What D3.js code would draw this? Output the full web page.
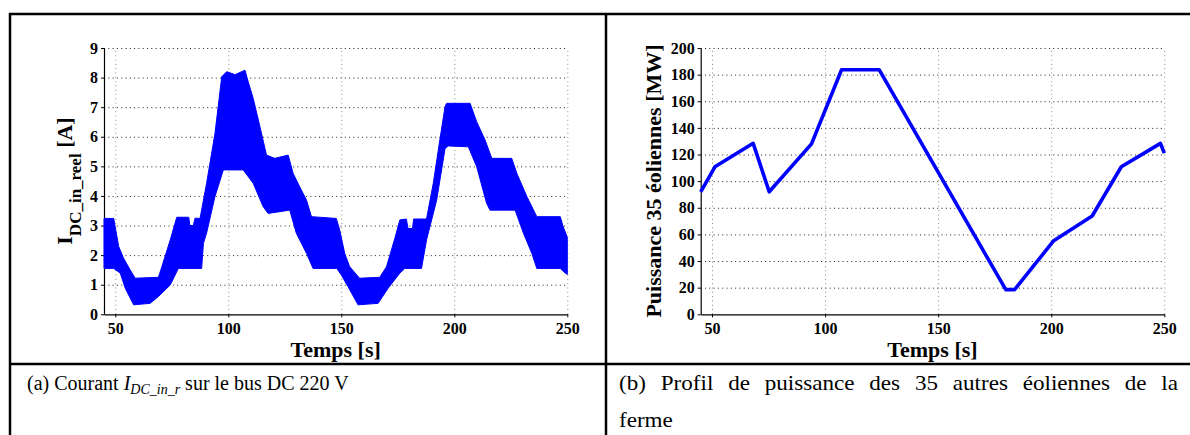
<!DOCTYPE html>
<html>
<head>
<meta charset="utf-8">
<script src="https://cdnjs.cloudflare.com/ajax/libs/d3/7.8.5/d3.min.js"></script>
<style>
  body { margin: 0; background: #fff; }
  svg { display: block; }
  text { font-family: "Liberation Serif", "Times New Roman", serif; }
</style>
</head>
<body>
<div id="fig"></div>
<script>
// ---- data ----
// (a) current I_DC_in_r : envelope of the oscillating band
var upperTime = [45, 49.3, 51.5, 53.7, 56.6, 58.8, 69.1, 70.6, 74.3, 77.2, 82.5, 83, 84.5, 85.3, 87.5,
    90.4, 94.1, 97.1, 99.3, 103, 107.4, 108.8, 111, 114, 116.9, 120.6, 126.5, 128.7, 131.6, 134.6,
    136.8, 147.8, 149.3, 151.5, 153.7, 158.1, 167, 170, 173.7, 175.9, 178.8, 179.5, 181.5, 182,
    187.7, 190.7, 193.6, 195.9, 196.6, 207, 209.9, 213.6, 216.6, 225.4, 227.7, 232.1, 236.5,
    246.9, 248, 250];
var upperValue = [3.24, 3.24, 2.29, 1.89, 1.5, 1.22, 1.25, 1.61, 2.51, 3.28, 3.28, 3.0, 3.0, 3.25, 3.24,
    4.43, 6.11, 8.03, 8.2, 8.1, 8.25, 7.86, 7.3, 6.34, 5.38, 5.27, 5.38, 4.76, 4.31, 3.86,
    3.3, 3.24, 2.85, 2.06, 1.61, 1.22, 1.25, 1.61, 2.57, 3.19, 3.22, 2.9, 2.9, 3.22,
    3.22, 4.43, 5.89, 7.02, 7.13, 7.13, 6.51, 5.89, 5.27, 5.27, 4.76, 3.98, 3.3,
    3.3, 3.0, 2.6];
var lowerTime = [45, 49.3, 52.2, 54.4, 58.1, 65.4, 69.1, 74.3, 77.9, 88.2, 89, 90.4, 94.1, 97.8,
    106.6, 111, 115.4, 117.6, 127.2, 130.1, 134.6, 137.5, 148, 150, 153, 157.4, 166.3, 170.7,
    175.9, 178.1, 185.5, 187.7, 192.2, 195.9, 197.3, 206.2, 209.9, 214.3, 215.8, 226.9, 230.6,
    234.3, 236.5, 246.9, 249.1, 250];
var lowerValue = [1.55, 1.55, 1.39, 0.88, 0.32, 0.37, 0.6, 0.99, 1.55, 1.55, 2.4, 2.75, 3.98, 4.88,
    4.88, 4.43, 3.64, 3.41, 3.52, 2.74, 2.06, 1.55, 1.55, 1.33, 0.93, 0.32, 0.37, 0.88,
    1.39, 1.55, 1.55, 2.51, 3.86, 5.6, 5.69, 5.66, 4.99, 3.75, 3.52, 3.52, 2.74,
    2.06, 1.55, 1.55, 1.39, 1.35];

// (b) power profile of the 35 other turbines
var powerTime = [45, 51.3, 68.2, 75.3, 94, 107.3, 123.9, 179.9, 183.8, 201.1, 218.1, 231, 248.3, 250];
var powerValue = [92, 110.8, 128.4, 92, 128, 183.7, 183.7, 18.5, 18.5, 55.3, 73.8, 110.8, 128.4, 121];

var timeTicks = [50, 100, 150, 200, 250];
var currentTicks = [0, 1, 2, 3, 4, 5, 6, 7, 8, 9];
var powerTicks = [0, 20, 40, 60, 80, 100, 120, 140, 160, 180, 200];

var W = 1190, H = 435;
var blue = '#0000ff';

var svg = d3.select('#fig').append('svg')
    .attr('width', W)
    .attr('height', H);

// frame of the figure table
var frame = svg.append('g').attr('stroke', '#000').attr('stroke-width', 2.5);
frame.append('line').attr('x1', 9).attr('x2', W).attr('y1', 14).attr('y2', 14);
frame.append('line').attr('x1', 9).attr('x2', W).attr('y1', 364).attr('y2', 364);
frame.append('line').attr('x1', 10).attr('x2', 10).attr('y1', 13).attr('y2', H);
frame.append('line').attr('x1', 606).attr('x2', 606).attr('y1', 13).attr('y2', H);

function gen_panel(x0, x1, yDomain, yTicks) {
    var x = d3.scaleLinear().domain([45, 250]).range([x0, x1]);
    var y = d3.scaleLinear().domain(yDomain).range([314.3, 48]);
    var g = svg.append('g');

    // dotted grid
    g.append('g').selectAll('line').data(yTicks.slice(1)).join('line')
        .attr('x1', x0).attr('x2', x1)
        .attr('y1', d => y(d) + 0.5).attr('y2', d => y(d) + 0.5)
        .attr('stroke', '#222').attr('stroke-width', 1)
        .attr('stroke-dasharray', '1,3.3');
    g.append('g').selectAll('line').data(timeTicks).join('line')
        .attr('x1', d => x(d) + 0.5).attr('x2', d => x(d) + 0.5)
        .attr('y1', y.range()[0]).attr('y2', y.range()[1])
        .attr('stroke', '#888').attr('stroke-width', 1)
        .attr('stroke-dasharray', '1,3.3');

    var ax = g.append('g')
        .attr('transform', 'translate(0,' + y.range()[0] + ')')
        .call(d3.axisBottom(x).tickValues(timeTicks).tickSize(3).tickPadding(5).tickSizeOuter(0));
    var ay = g.append('g')
        .attr('transform', 'translate(' + x0 + ',0)')
        .call(d3.axisLeft(y).tickValues(yTicks).tickSize(3).tickPadding(3).tickSizeOuter(0));
    [ax, ay].forEach(function (a) {
        a.attr('font-family', '"Liberation Serif", serif')
            .attr('font-size', 16)
            .attr('font-weight', 'bold');
        a.select('.domain').attr('stroke', '#000').attr('stroke-width', 1.2);
        a.selectAll('.tick line').attr('stroke', '#000');
        a.selectAll('.tick text')
            .attr('fill', '#000')
            .style('font-family', '"Liberation Serif", serif')
            .style('font-weight', '700')
            .style('font-size', '16px');
    });

    g.append('text')
        .attr('x', (x0 + x1) / 2).attr('y', 357)
        .attr('text-anchor', 'middle')
        .style('font-weight', 'bold').style('font-size', '22px')
        .text('Temps [s]');

    return { x: x, y: y, g: g };
}

// ---- panel (a) ----
var pa = gen_panel(104, 567.3, [0, 9], currentTicks);
var band = upperTime.map((t, i) => [t, upperValue[i]])
    .concat(lowerTime.map((t, i) => [t, lowerValue[i]]).reverse());
pa.g.append('path')
    .attr('d', d3.line().x(d => pa.x(d[0])).y(d => pa.y(d[1]))(band) + 'Z')
    .attr('fill', blue)
    .attr('stroke', blue)
    .attr('stroke-width', 1);

var yla = pa.g.append('text')
    .attr('transform', 'translate(72,181) rotate(-90)')
    .attr('text-anchor', 'middle')
    .style('font-weight', 'bold').style('font-size', '22px')
    .style('white-space', 'pre');
yla.append('tspan').text('I');
yla.append('tspan').attr('dy', 9).style('font-size', '17px').text('DC_in_reel');
yla.append('tspan').attr('dy', -9).text(' [A]');

// ---- panel (b) ----
var pb = gen_panel(700.7, 1164.3, [0, 200], powerTicks);
pb.g.append('path')
    .datum(powerTime.map((t, i) => [t, powerValue[i]]))
    .attr('d', d3.line().x(d => pb.x(d[0])).y(d => pb.y(d[1])))
    .attr('fill', 'none')
    .attr('stroke', blue)
    .attr('stroke-width', 3.6)
    .attr('stroke-linejoin', 'round');

pb.g.append('text')
    .attr('transform', 'translate(661,181) rotate(-90)')
    .attr('text-anchor', 'middle')
    .style('font-weight', 'bold').style('font-size', '22px')
    .text('Puissance 35 éoliennes [MW]');

// ---- captions ----
var capA = svg.append('text')
    .attr('transform', 'translate(27,390)')
    .style('font-size', '20px').style('white-space', 'pre');
capA.append('tspan').text('(a) Courant ');
capA.append('tspan').style('font-style', 'italic').text('I');
capA.append('tspan').style('font-style', 'italic').style('font-size', '14px').attr('dy', 4).text('DC_in_r');
capA.append('tspan').attr('dy', -4).text(' sur le bus DC 220 V');

// (b): first line justified across the cell, as LaTeX sets it
var sB = 1.1;
var lineB = '(b) Profil de puissance des 35 autres éoliennes de la';
var capB = svg.append('text').style('font-size', '21px').text(lineB);
var natB = capB.node().getBBox().width * sB;
var gaps = lineB.split(' ').length - 1;
capB.style('word-spacing', ((560 - natB) / gaps / sB) + 'px')
    .attr('transform', 'translate(619,390) scale(' + sB + ',1)');
svg.append('text').style('font-size', '21px')
    .attr('transform', 'translate(619,427) scale(' + sB + ',1)')
    .text('ferme');
</script>
</body>
</html>
